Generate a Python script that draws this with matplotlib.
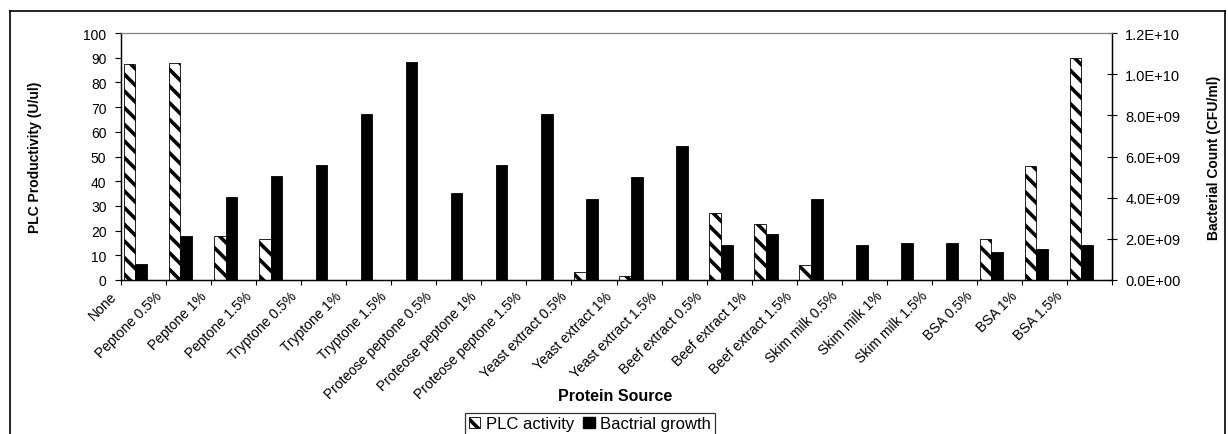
import numpy as np
import matplotlib
matplotlib.use("Agg")
import matplotlib.pyplot as plt
from matplotlib.patches import Patch
from matplotlib.lines import Line2D
from matplotlib.transforms import ScaledTranslation
from matplotlib.ticker import FuncFormatter, MultipleLocator

plt.rcParams['font.family'] = ['Liberation Sans', 'DejaVu Sans']
plt.rcParams['hatch.linewidth'] = 2.6

# data
sources = ['None', 'Peptone 0.5%', 'Peptone 1%', 'Peptone 1.5%',
           'Tryptone 0.5%', 'Tryptone 1%', 'Tryptone 1.5%',
           'Proteose peptone 0.5%', 'Proteose peptone 1%', 'Proteose peptone 1.5%',
           'Yeast extract 0.5%', 'Yeast extract 1%', 'Yeast extract 1.5%',
           'Beef extract 0.5%', 'Beef extract 1%', 'Beef extract 1.5%',
           'Skim milk 0.5%', 'Skim milk 1%', 'Skim milk 1.5%',
           'BSA 0.5%', 'BSA 1%', 'BSA 1.5%']
plc_activity = [87.3, 87.8, 17.7, 16.6, 0, 0, 0, 0, 0, 0, 3.4, 1.5, 0,
                27.2, 22.7, 6.2, 0, 0, 0, 16.6, 46.1, 90.0]
bacterial_growth = [7.8e8, 2.13e9, 4.02e9, 5.07e9, 5.6e9, 8.07e9, 1.06e10,
                    4.22e9, 5.6e9, 8.06e9, 3.92e9, 5.01e9, 6.53e9,
                    1.69e9, 2.22e9, 3.92e9, 1.69e9, 1.78e9, 1.78e9,
                    1.36e9, 1.51e9, 1.69e9]

x = np.arange(len(sources))
w = 0.26

fig = plt.figure(figsize=(12.28, 4.35), dpi=100)
ax = fig.add_axes([121/1228, 1 - 281/435, 991/1228, 247/435])
ax2 = ax.twinx()

ax.bar(x - 0.31, plc_activity, w, color='white', edgecolor='black',
       hatch='\\\\', linewidth=0.6)
ax2.bar(x - 0.05, bacterial_growth, w, color='black', edgecolor='black', linewidth=0.6)

ax.set_xlim(-0.5, len(sources) - 0.5)
ax.set_ylim(0, 100)
ax2.set_ylim(0, 1.2e10)
ax.yaxis.set_major_locator(MultipleLocator(10))
ax2.yaxis.set_major_locator(MultipleLocator(2e9))
ax2.yaxis.set_major_formatter(FuncFormatter(lambda v, p: '{:.1E}'.format(v)))

# tick marks on category borders, labels on centres
ax.set_xticks(np.arange(len(sources) + 1) - 0.5)
ax.set_xticklabels([])
ax.set_xticks(x, minor=True)
ax.set_xticklabels(sources, minor=True, rotation=45, ha='right', va='top',
                   rotation_mode='anchor', fontsize=10)
ax.tick_params(axis='x', which='major', direction='out', length=3.5, width=0.8)
ax.tick_params(axis='x', which='minor', length=0, pad=6)
shift = ScaledTranslation(-0.34, 0, fig.dpi_scale_trans)
for lab in ax.get_xticklabels(minor=True):
    lab.set_transform(lab.get_transform() + shift)

ax.tick_params(axis='y', direction='out', length=4.5, width=0.8, labelsize=10, pad=6)
ax2.tick_params(axis='y', direction='inout', length=7, width=0.8, labelsize=10.5, pad=6)

for a in (ax, ax2):
    a.spines['top'].set_color('#808080')
    a.spines['top'].set_linewidth(0.8)
    for s in ('left', 'right', 'bottom'):
        a.spines[s].set_linewidth(0.9)

ax.set_ylabel('PLC Productivity (U/ul)', fontsize=10, fontweight='bold')
ax.yaxis.set_label_coords((42 - 121) / 991, 0.5)
ax2.set_ylabel('Bacterial Count (CFU/ml)', fontsize=10, fontweight='bold')
ax2.yaxis.set_label_coords((1207 - 121) / 991, 0.5)
fig.text(615/1228, 1 - 397/435, 'Protein Source', fontsize=11.5, fontweight='bold',
         ha='center', va='center')

handles = [Patch(facecolor='white', edgecolor='black', hatch='\\\\', linewidth=0.6),
           Patch(facecolor='black', edgecolor='black')]
leg = fig.legend(handles, ['PLC activity', 'Bactrial growth'], ncol=2,
                 loc='upper center', bbox_to_anchor=(590/1228, 1 - 414/435),
                 fontsize=12, frameon=True, fancybox=False, edgecolor='black',
                 handlelength=0.7, handleheight=0.7, handletextpad=0.35,
                 columnspacing=0.5, borderpad=0.2, borderaxespad=0)
leg.get_frame().set_linewidth(0.9)

# outer chart frame
fx0, fx1, fy1 = 10/1228, 1225/1228, 1 - 11.5/435
for xs, ys in (([fx0, fx0], [0, fy1]), ([fx0, fx1], [fy1, fy1]), ([fx1, fx1], [fy1, 0])):
    fig.add_artist(Line2D(xs, ys, color='black', linewidth=1.2, transform=fig.transFigure))

fig.savefig('out.png', dpi=100)
